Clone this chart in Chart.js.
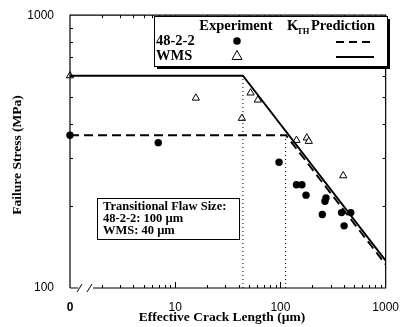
<!DOCTYPE html>
<html>
<head>
<meta charset="utf-8">
<script src="https://cdn.jsdelivr.net/npm/chart.js@4"></script>
<style>
  html, body { margin: 0; padding: 0; background: #fff; }
  #wrap { width: 403px; height: 327px; }
</style>
</head>
<body>
<div id="wrap"><canvas id="stressChart"></canvas></div>
<script>
// 48-2-2 experiment (filled circles)
const crack482 = [1, 6.9, 97, 142, 160, 175, 265, 271, 250, 381, 466, 403];
const stress482 = [363, 341, 289, 239, 239, 219, 208, 214, 186, 189, 189, 169];

// WMS experiment (open triangles)
const crackWMS = [1, 15.7, 43, 52, 61, 142, 178, 186, 395];
const stressWMS = [600, 497, 419, 519, 489, 348, 355, 345, 258];

// K_TH prediction lines
const predCrack482 = [1, 113, 1000];
const predStress482 = [363, 363, 122];
const predCrackWMS = [1, 44, 1000];
const predStressWMS = [600, 600, 126];

// transitional flaw sizes (dotted verticals)
const flawSize = [44, 112];
const flawTop = [600, 363];

const xTicks = [1, 10, 100, 1000];
const yTicks = [100, 1000];

const serif = '"Liberation Serif", "Times New Roman", serif';
const sans = '"Liberation Sans", Arial, sans-serif';

const pts = (xs, ys) => xs.map((x, i) => ({ x: x, y: ys[i] }));

// frame with inward ticks and axis break
const framePlugin = {
  id: 'frame',
  afterDatasetsDraw(chart) {
    const { ctx, chartArea: a, scales: { x, y } } = chart;
    ctx.save();
    ctx.strokeStyle = '#000';
    ctx.lineWidth = 1.2;
    ctx.beginPath();
    ctx.moveTo(a.left, a.bottom);
    ctx.lineTo(a.left, a.top);
    ctx.lineTo(a.right, a.top);
    ctx.lineTo(a.right, a.bottom);
    ctx.lineTo(a.left + 23, a.bottom);
    ctx.moveTo(a.left, a.bottom);
    ctx.lineTo(a.left + 8, a.bottom);
    ctx.stroke();
    // break slashes
    ctx.lineWidth = 1;
    ctx.beginPath();
    ctx.moveTo(a.left + 7, a.bottom + 4);
    ctx.lineTo(a.left + 12, a.bottom - 4);
    ctx.moveTo(a.left + 17, a.bottom + 4);
    ctx.lineTo(a.left + 22, a.bottom - 4);
    ctx.stroke();

    ctx.lineWidth = 1;
    ctx.beginPath();
    for (let d = 1; d <= 100; d *= 10) {
      for (let m = 2; m <= 10; m++) {
        const v = d * m;
        if (v >= 1000) continue;
        const px = Math.round(x.getPixelForValue(v)) + 0.5;
        const len = m === 10 ? 6 : 3;
        ctx.moveTo(px, a.bottom);
        ctx.lineTo(px, a.bottom - len);
        ctx.moveTo(px, a.top);
        ctx.lineTo(px, a.top + len);
      }
    }
    for (let m = 2; m <= 9; m++) {
      const py = Math.round(y.getPixelForValue(m * 100)) + 0.5;
      ctx.moveTo(a.left, py);
      ctx.lineTo(a.left + 3, py);
      ctx.moveTo(a.right, py);
      ctx.lineTo(a.right - 3, py);
    }
    ctx.stroke();
    ctx.restore();
  }
};

// legend box, axis titles and flaw-size note
const notesPlugin = {
  id: 'notes',
  afterDraw(chart) {
    const { ctx } = chart;
    ctx.save();
    ctx.fillStyle = '#000';
    ctx.textBaseline = 'middle';
    ctx.textAlign = 'center';
    ctx.font = 'bold 13.5px ' + serif;
    ctx.fillText('Effective Crack Length (\u00b5m)', 222, 318);
    ctx.save();
    ctx.translate(18, 155);
    ctx.rotate(-Math.PI / 2);
    ctx.fillText('Failure Stress (MPa)', 0, 0);
    ctx.restore();

    // legend box with shadow
    const bx = 154, by = 16, bw = 233, bh = 50;
    ctx.fillStyle = '#000';
    ctx.fillRect(bx + 3, by + 3, bw, bh);
    ctx.fillStyle = '#fff';
    ctx.fillRect(bx, by, bw, bh);
    ctx.strokeStyle = '#000';
    ctx.lineWidth = 1;
    ctx.strokeRect(bx + 0.5, by + 0.5, bw, bh);

    ctx.fillStyle = '#000';
    ctx.font = 'bold 14.5px ' + serif;
    ctx.textAlign = 'center';
    ctx.fillText('Experiment', 236, 26);
    ctx.textAlign = 'left';
    ctx.fillText('K', 287, 26);
    ctx.fillText('Prediction', 311, 26);
    ctx.font = 'bold 8.5px ' + serif;
    ctx.fillText('TH', 297, 32);
    ctx.font = 'bold 14.5px ' + serif;
    ctx.fillText('48-2-2', 156, 41);
    ctx.fillText('WMS', 156, 56);

    ctx.beginPath();
    ctx.arc(237, 41, 3.8, 0, Math.PI * 2);
    ctx.fill();
    ctx.beginPath();
    ctx.moveTo(237, 50.5);
    ctx.lineTo(242, 59.5);
    ctx.lineTo(232, 59.5);
    ctx.closePath();
    ctx.stroke();

    ctx.lineWidth = 1.8;
    ctx.setLineDash([8, 5]);
    ctx.beginPath();
    ctx.moveTo(336, 42);
    ctx.lineTo(374, 42);
    ctx.stroke();
    ctx.setLineDash([]);
    ctx.beginPath();
    ctx.moveTo(336, 57);
    ctx.lineTo(374, 57);
    ctx.stroke();

    // flaw size box
    ctx.fillStyle = '#fff';
    ctx.fillRect(97, 198, 142, 41);
    ctx.lineWidth = 1;
    ctx.strokeRect(97.5, 198.5, 142, 41);
    ctx.fillStyle = '#000';
    ctx.font = 'bold 12.5px ' + serif;
    ctx.fillText('Transitional Flaw Size:', 103, 207);
    ctx.fillText('48-2-2: 100 \u00b5m', 103, 219);
    ctx.fillText('WMS: 40 \u00b5m', 103, 231);
    ctx.restore();
  }
};

const lineDs = (data, dash, width) => ({
  type: 'line',
  data: data,
  borderColor: '#000',
  borderWidth: width,
  borderDash: dash,
  pointRadius: 0,
  fill: false,
  tension: 0
});

new Chart(document.getElementById('stressChart'), {
  type: 'scatter',
  data: {
    datasets: [
      lineDs(pts([flawSize[0], flawSize[0]], [100, flawTop[0]]), [1, 3], 1),
      lineDs(pts([flawSize[1], flawSize[1]], [100, flawTop[1]]), [1, 3], 1),
      lineDs(pts(predCrack482, predStress482), [9, 5], 1.9),
      lineDs(pts(predCrackWMS, predStressWMS), [], 1.9),
      {
        label: '48-2-2',
        data: pts(crack482, stress482),
        pointStyle: 'circle',
        pointRadius: 3.7,
        backgroundColor: '#000',
        borderColor: '#000',
        borderWidth: 0,
        clip: false
      },
      {
        label: 'WMS',
        data: pts(crackWMS, stressWMS),
        pointStyle: 'triangle',
        pointRadius: 4.2,
        backgroundColor: '#fff',
        borderColor: '#000',
        borderWidth: 1,
        clip: false
      }
    ]
  },
  options: {
    responsive: true,
    maintainAspectRatio: false,
    animation: false,
    layout: { padding: { top: 14, right: 15, left: 0, bottom: 0 } },
    plugins: { legend: { display: false }, tooltip: { enabled: false } },
    scales: {
      x: {
        type: 'logarithmic',
        min: 1,
        max: 1000,
        grid: { display: false },
        border: { display: false },
        afterBuildTicks: s => { s.ticks = xTicks.map(v => ({ value: v })); },
        afterFit: s => { s.height = 39; },
        ticks: {
          autoSkip: false,
          maxRotation: 0,
          padding: 4,
          color: '#000',
          font: c => ({ family: sans, size: 12, weight: c.tick && c.tick.value === 1 ? 'bold' : 'normal' }),
          callback: v => (v === 1 ? '0' : String(v))
        }
      },
      y: {
        type: 'logarithmic',
        min: 100,
        max: 1000,
        grid: { display: false },
        border: { display: false },
        afterBuildTicks: s => { s.ticks = yTicks.map(v => ({ value: v })); },
        afterFit: s => { s.width = 70; },
        ticks: {
          autoSkip: false,
          padding: 8,
          color: '#000',
          font: { family: sans, size: 12 },
          callback: v => String(v)
        }
      }
    }
  },
  plugins: [framePlugin, notesPlugin]
});
</script>
</body>
</html>
